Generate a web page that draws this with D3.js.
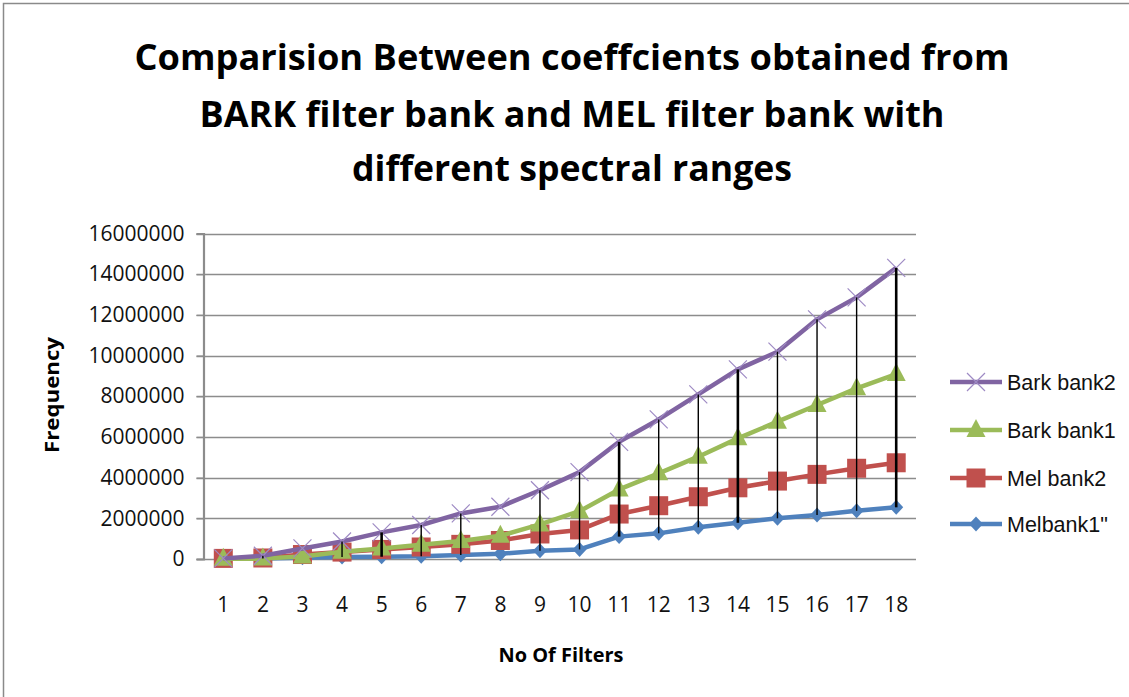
<!DOCTYPE html>
<html>
<head>
<meta charset="utf-8">
<script src="https://cdn.jsdelivr.net/npm/d3@7"></script>
<style>
  html, body { margin: 0; padding: 0; background: #fff; }
  svg { display: block; }
</style>
</head>
<body>
<svg id="chart" width="1129" height="697"></svg>
<script>
// data
const filters = [1, 2, 3, 4, 5, 6, 7, 8, 9, 10, 11, 12, 13, 14, 15, 16, 17, 18];
const barkBank2 = [30000, 160000, 520000, 860000, 1310000, 1670000, 2240000, 2570000, 3380000, 4270000, 5760000, 6860000, 8090000, 9320000, 10190000, 11780000, 12860000, 14310000];
const barkBank1 = [10000, 20000, 120000, 360000, 520000, 700000, 880000, 1140000, 1700000, 2350000, 3420000, 4210000, 5030000, 5930000, 6750000, 7570000, 8390000, 9090000];
const melBank2 = [30000, 50000, 220000, 340000, 470000, 590000, 720000, 910000, 1230000, 1430000, 2210000, 2620000, 3060000, 3500000, 3830000, 4160000, 4460000, 4730000];
const melBank1 = [10000, 20000, 60000, 100000, 110000, 130000, 200000, 260000, 400000, 470000, 1100000, 1260000, 1560000, 1780000, 2000000, 2160000, 2370000, 2540000];
const yTicks = [0, 2000000, 4000000, 6000000, 8000000, 10000000, 12000000, 14000000, 16000000];
const dropFilters = [2, 4, 5, 6, 7, 9, 10, 11, 12, 13, 14, 15, 16, 17, 18];
const thickDrops = [5, 11, 14, 18];

const titleLines = [
  'Comparision Between coeffcients obtained from',
  'BARK filter bank and MEL filter bank with',
  'different spectral ranges'
];

// series in draw order (legend lists them reversed)
const series = [
  { name: 'Melbank1"', values: melBank1, color: '#4F81BD', marker: 'diamond' },
  { name: 'Mel bank2', values: melBank2, color: '#C0504D', marker: 'square' },
  { name: 'Bark bank1', values: barkBank1, color: '#9BBB59', marker: 'triangle' },
  { name: 'Bark bank2', values: barkBank2, color: '#8064A2', marker: 'cross' }
];

const svg = d3.select('#chart');

// outer chart border (only top and left visible)
svg.append('rect')
  .attr('x', 3.5).attr('y', 3.5)
  .attr('width', 1300).attr('height', 900)
  .attr('fill', 'none')
  .attr('stroke', '#8a8a8a')
  .attr('stroke-width', 1.5);

const plot = { left: 203.5, right: 916, top: 233.5, bottom: 559 };

const x = d3.scaleBand()
  .domain(filters)
  .range([plot.left, plot.right]);

const y = d3.scaleLinear()
  .domain([0, 16000000])
  .range([plot.bottom, plot.top]);

const cx = d => x(d) + x.bandwidth() / 2;

// title
const titleBaselines = [69.5, 127, 181];
const titleWidths = [875, 745, 440];
svg.append('g').selectAll('text')
  .data(titleLines)
  .enter().append('text')
  .attr('x', 572)
  .attr('y', (d, i) => titleBaselines[i])
  .attr('text-anchor', 'middle')
  .attr('textLength', (d, i) => titleWidths[i])
  .attr('lengthAdjust', 'spacingAndGlyphs')
  .style('font-family', '"Open Sans", sans-serif')
  .style('font-weight', 700)
  .style('font-size', '36px')
  .attr('fill', '#000')
  .text(d => d);

// gridlines
svg.append('g').selectAll('line')
  .data(yTicks)
  .enter().append('line')
  .attr('x1', plot.left - 7)
  .attr('x2', plot.right)
  .attr('y1', d => Math.round(y(d)) + 0.5)
  .attr('y2', d => Math.round(y(d)) + 0.5)
  .attr('stroke', '#8c8c8c')
  .attr('stroke-width', 1.3);

// y axis
const yAxis = d3.axisLeft(y)
  .tickValues(yTicks)
  .tickFormat(d3.format('d'))
  .tickSize(7)
  .tickPadding(12);

const yg = svg.append('g')
  .attr('transform', 'translate(' + plot.left + ',0)')
  .call(yAxis);
yg.select('.domain').attr('stroke', '#8c8c8c').attr('stroke-width', 2.2);
yg.selectAll('.tick line').attr('stroke', '#8c8c8c').attr('stroke-width', 1.3);
yg.selectAll('.tick text')
  .style('font-family', '"Open Sans", sans-serif')
  .style('font-size', '21px')
  .attr('fill', '#111');

// x axis labels
const xAxis = d3.axisBottom(x).tickSize(0).tickPadding(38);
const xg = svg.append('g')
  .attr('transform', 'translate(0,' + plot.bottom + ')')
  .call(xAxis);
xg.select('.domain').remove();
xg.selectAll('.tick text')
  .style('font-family', '"Open Sans", sans-serif')
  .style('font-size', '21px')
  .attr('fill', '#111');

// axis titles
svg.append('text')
  .attr('x', 561)
  .attr('y', 662)
  .attr('text-anchor', 'middle')
  .style('font-family', '"Open Sans", sans-serif')
  .style('font-weight', 700)
  .style('font-size', '19px')
  .attr('textLength', 125)
  .attr('lengthAdjust', 'spacingAndGlyphs')
  .text('No Of Filters');

svg.append('text')
  .attr('transform', 'translate(59,395) rotate(-90)')
  .attr('text-anchor', 'middle')
  .style('font-family', '"Open Sans", sans-serif')
  .style('font-weight', 700)
  .style('font-size', '20px')
  .attr('textLength', 116)
  .attr('lengthAdjust', 'spacingAndGlyphs')
  .text('Frequency');

// marker drawing
function drawMarker(g, kind, color, px, py) {
  if (kind === 'diamond') {
    g.append('path')
      .attr('d', `M${px},${py - 7.5}L${px + 7},${py}L${px},${py + 7.5}L${px - 7},${py}Z`)
      .attr('fill', color);
  } else if (kind === 'square') {
    g.append('rect')
      .attr('x', px - 9.5).attr('y', py - 9.5)
      .attr('width', 19).attr('height', 19)
      .attr('fill', color);
  } else if (kind === 'triangle') {
    g.append('path')
      .attr('d', `M${px},${py - 11}L${px + 9.5},${py + 7}L${px - 9.5},${py + 7}Z`)
      .attr('fill', color);
  } else if (kind === 'cross') {
    g.append('path')
      .attr('d', `M${px - 9},${py - 9}L${px + 9},${py + 9}M${px + 9},${py - 9}L${px - 9},${py + 9}`)
      .attr('stroke', '#9e8ac4')
      .attr('stroke-width', 1.2)
      .attr('fill', 'none');
  }
}

const line = d3.line()
  .x((d, i) => cx(filters[i]))
  .y(d => y(d));

series.forEach(s => {
  const g = svg.append('g');
  g.append('path')
    .datum(s.values)
    .attr('d', line)
    .attr('fill', 'none')
    .attr('stroke', s.color)
    .attr('stroke-width', 4.5)
    .attr('stroke-linejoin', 'round');
  s.values.forEach((v, i) => drawMarker(g, s.marker, s.color, cx(filters[i]), y(v)));
});

// high-low drop lines
svg.append('g').selectAll('line')
  .data(dropFilters)
  .enter().append('line')
  .attr('x1', d => cx(d))
  .attr('x2', d => cx(d))
  .attr('y1', d => y(barkBank2[filters.indexOf(d)]))
  .attr('y2', d => y(melBank1[filters.indexOf(d)]))
  .attr('stroke', '#000')
  .attr('stroke-width', d => thickDrops.includes(d) ? 2.6 : 1.4);

// legend
const legendRows = [382, 430, 478, 524];
const legendSeries = series.slice().reverse();
legendSeries.forEach((s, i) => {
  const g = svg.append('g');
  const ly = legendRows[i];
  g.append('line')
    .attr('x1', 950).attr('x2', 1002)
    .attr('y1', ly).attr('y2', ly)
    .attr('stroke', s.color)
    .attr('stroke-width', 4.5);
  drawMarker(g, s.marker, s.color, 976, ly);
  g.append('text')
    .attr('x', 1007)
    .attr('y', ly)
    .attr('dy', '0.36em')
    .style('font-family', '"Liberation Sans", Arial, sans-serif')
    .style('font-size', '21.5px')
    .attr('fill', '#111')
    .text(s.name);
});
</script>
</body>
</html>
